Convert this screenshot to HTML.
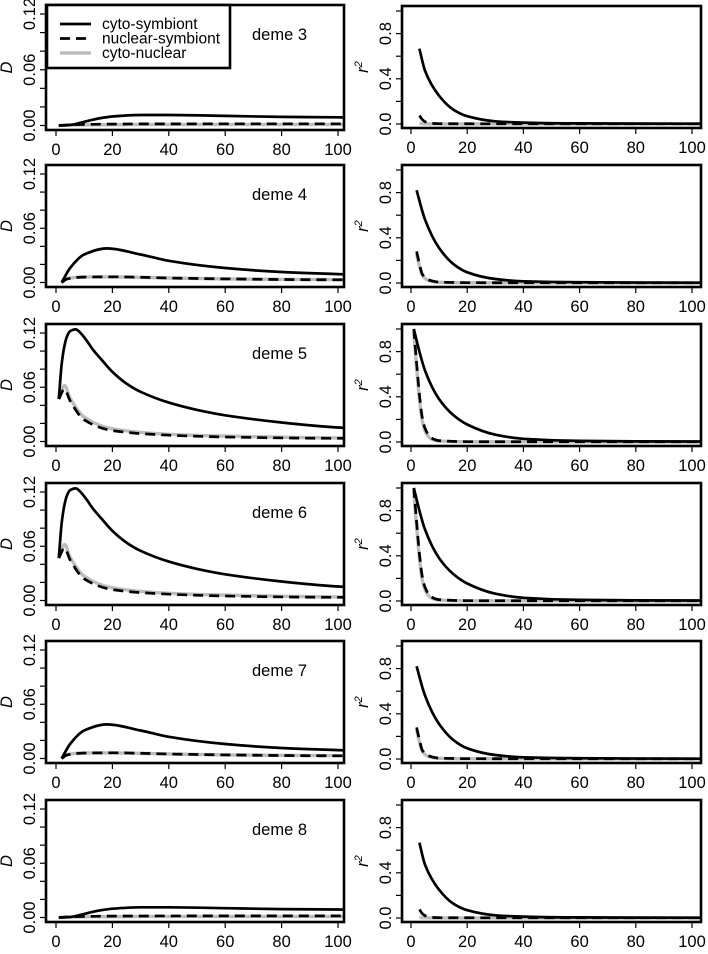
<!DOCTYPE html>
<html><head><meta charset="utf-8">
<style>
html,body{margin:0;padding:0;background:#fff;}
svg{display:block;font-family:"Liberation Sans",Arial,sans-serif;}
</style></head>
<body>
<svg id="chart" width="708" height="954" viewBox="0 0 708 954"></svg>
<script>
// ---- data ----
const demes = [3,4,5,6,7,8];
const xTicks = [0,20,40,60,80,100];
const dTicks = [0,0.02,0.04,0.06,0.08,0.10,0.12];
const dTickLabels = ["0.00","","","0.06","","","0.12"];
const rTicks = [0,0.2,0.4,0.6,0.8,1.0];
const rTickLabels = ["0.0","","0.4","","0.8",""];
// D curves
const dCytoSymLow_x = [1,5,10,15,20,30,40,60,80,100,103];
const dCytoSymLow_y = [0,0.0006,0.004,0.0075,0.0097,0.0113,0.0113,0.0103,0.0093,0.0088,0.0087];
const dNucSymLow_x = [1,10,30,60,100,103];
const dNucSymLow_y = [0,0.0012,0.0017,0.0018,0.0018,0.0018];
const dCytoNucLow_y = [0,0.0008,0.0012,0.0012,0.0012,0.0012];
const dCytoSymMid_x = [2,5,10,18,30,40,60,80,100,103];
const dCytoSymMid_y = [0,0.016,0.031,0.0377,0.031,0.024,0.016,0.0116,0.0093,0.009];
const dNucSymMid_x = [2,4,10,20,40,60,100,103];
const dNucSymMid_y = [0,0.004,0.006,0.0063,0.005,0.004,0.003,0.003];
const dCytoNucMid_y = [0,0.0045,0.0062,0.0062,0.005,0.004,0.0031,0.003];
const dCytoSymHigh_x = [1,2,3,4,5,7,9,11,13,16,20,25,30,40,50,60,80,100,103];
const dCytoSymHigh_y = [0.047,0.085,0.106,0.117,0.122,0.124,0.119,0.111,0.102,0.091,0.077,0.064,0.055,0.043,0.035,0.029,0.021,0.0155,0.015];
const dNucSymHigh_x = [1,3,5,10,20,40,60,100,103];
const dNucSymHigh_y = [0.047,0.058,0.045,0.024,0.012,0.007,0.005,0.0035,0.0035];
const dCytoNucHigh_y = [0.047,0.062,0.048,0.027,0.014,0.008,0.006,0.004,0.004];
// r^2 curves
const rCytoSymLow_x = [3,5,10,15,20,30,40,60,100,103];
const rCytoSymLow_y = [0.666,0.47,0.25,0.128,0.069,0.024,0.012,0.005,0.003,0.003];
const rNucSymLow_x = [3,4,5,7,10,30,103];
const rNucSymLow_y = [0.075,0.04,0.02,0.006,0.003,0.002,0.002];
const rCytoNucLow_y = [0.005,0.003,0.002,0.001,0.001,0.001,0.001];
const rCytoSymMid_x = [2,5,10,15,20,30,40,60,100,103];
const rCytoSymMid_y = [0.82,0.56,0.31,0.17,0.095,0.035,0.015,0.007,0.003,0.003];
const rNucSymMid_x = [2,3,4,6,10,20,103];
const rNucSymMid_y = [0.28,0.17,0.08,0.03,0.008,0.003,0.002];
const rCytoNucMid_y = [0.26,0.15,0.07,0.025,0.006,0.002,0.001];
const rCytoSymHigh_x = [1,3,5,10,15,20,30,40,60,100,103];
const rCytoSymHigh_y = [1.0,0.8,0.63,0.38,0.24,0.155,0.065,0.028,0.01,0.004,0.004];
const rNucSymHigh_x = [1,2,3,4,5,7,10,20,103];
const rNucSymHigh_y = [1.0,0.7,0.42,0.22,0.12,0.04,0.012,0.003,0.002];
const rCytoNucHigh_y = [0.97,0.66,0.38,0.19,0.1,0.03,0.008,0.002,0.001];

const NS="http://www.w3.org/2000/svg";
const svg=document.getElementById('chart');
function mk(tag,attrs,parent){const e=document.createElementNS(NS,tag);for(const k in attrs)e.setAttribute(k,attrs[k]);(parent||svg).appendChild(e);return e;}

function series(kind,level){
  const L = {low:"Low",mid:"Mid",high:"High"}[level];
  const p = kind==="D"?"d":"r";
  const ns = eval(p+"NucSym"+L+"_x");
  return {
    cs:[eval(p+"CytoSym"+L+"_x"),eval(p+"CytoSym"+L+"_y")],
    ns:[ns,eval(p+"NucSym"+L+"_y")],
    cn:[ns,eval(p+"CytoNuc"+L+"_y")]
  };
}
const levels=["low","mid","high","high","mid","low"];
const rowTops=[6,165,324,483,641,800];

function smoothPath(px){
  const n=px.length;
  const dx=[],sl=[];
  for(let i=0;i<n-1;i++){dx.push(px[i+1][0]-px[i][0]);sl.push((px[i+1][1]-px[i][1])/dx[i]);}
  const m=new Array(n);
  m[0]=sl[0];m[n-1]=sl[n-2];
  for(let i=1;i<n-1;i++){
    if(sl[i-1]*sl[i]<=0)m[i]=0;
    else{const w1=2*dx[i]+dx[i-1],w2=dx[i]+2*dx[i-1];m[i]=(w1+w2)/(w1/sl[i-1]+w2/sl[i]);}
  }
  let d="M"+px[0][0].toFixed(1)+","+px[0][1].toFixed(1);
  for(let i=0;i<n-1;i++){
    const h=dx[i]/3;
    d+=" C"+(px[i][0]+h).toFixed(1)+","+(px[i][1]+m[i]*h).toFixed(1)+" "+(px[i+1][0]-h).toFixed(1)+","+(px[i+1][1]-m[i+1]*h).toFixed(1)+" "+px[i+1][0].toFixed(1)+","+px[i+1][1].toFixed(1);
  }
  return d;
}

function panel(row,col){
  const kind = col===0?"D":"r";
  const top = row===0 && col===0 ? 5 : rowTops[row];
  const h = row===0 && col===0 ? 125 : 122;
  const bx = col===0?46:402, bw=col===0?298:299;
  const x0 = col===0?56:411, xs=col===0?2.82:2.81;
  const bottom=top+h;
  let ys,yb;
  if(kind==="D"){yb=bottom-4.5;ys=(h-13.5)/0.12;}else{yb=bottom-4;ys=(h-9);}
  const X=v=>x0+v*xs, Y=v=>yb-v*ys;
  const g=mk('g',{});
  
  
  const clipId='c'+row+'_'+col;
  const cp=mk('clipPath',{id:clipId},g);mk('rect',{x:bx,y:top,width:bw,height:h},cp);
  const s=series(kind,levels[row]);
  const lg=mk('g',{'clip-path':'url(#'+clipId+')'},g);
  const defs=[["cn","#bdbdbd","3.4",null,"cyto-nuclear-line"],["ns","#000","2.7","10,6","nuclear-symbiont-line"],["cs","#000","2.7",null,"cyto-symbiont-line"]];
  defs.forEach(([k,c,w,da,nm])=>{
    const xs_=s[k][0],vs=s[k][1];
    const px=xs_.map((xv,i)=>[X(xv),Y(vs[i])]);
    const p=mk('path',{d:smoothPath(px),fill:'none',stroke:c,'stroke-width':w,'stroke-linecap':'butt','stroke-linejoin':'round'},lg);
    if(da)p.setAttribute('stroke-dasharray',da);
    
    
  });
  const box=mk('rect',{x:bx,y:top,width:bw,height:h,fill:'none',stroke:'#000','stroke-width':2.6},g);
  
  
  xTicks.forEach(t=>{
    mk('line',{x1:X(t),x2:X(t),y1:bottom,y2:bottom+6,stroke:'#000','stroke-width':1.2},g);
    const tx=mk('text',{x:X(t),y:bottom+25,'text-anchor':'middle','font-size':16.5},g);
    tx.textContent=t;
    
    
  });
  const yt=kind==="D"?dTicks:rTicks, yl=kind==="D"?dTickLabels:rTickLabels;
  yt.forEach((t,i)=>{
    const yy=Y(t);
    mk('line',{x1:bx-6,x2:bx,y1:yy,y2:yy,stroke:'#000','stroke-width':1.2},g);
    if(yl[i]){
      const lx=bx-11;
      const tx=mk('text',{x:lx,y:yy,'text-anchor':'middle','font-size':16.5,transform:'rotate(-90 '+lx+' '+yy+')'},g);
      tx.textContent=yl[i];
      
      
    }
  });
  const tx=bx-34, ty=top+h/2;
  const yt2=mk('text',{x:tx,y:ty,'text-anchor':'middle','font-size':16.5,'font-style':'italic',transform:'rotate(-90 '+tx+' '+ty+')'},g);
  if(kind==="D"){yt2.textContent="D";}
  else{yt2.textContent="r";const sp=mk('tspan',{dy:-6,'font-size':11},yt2);sp.textContent="2";}
  
  
  if(kind==="D"){
    const dl=mk('text',{x:252,y:top+35,'font-size':16.5},g);
    dl.textContent="deme "+demes[row];
    
    
  }
}
for(let r=0;r<6;r++){panel(r,0);panel(r,1);}
const lg=mk('g',{});


mk('rect',{x:47,y:5,width:183,height:63,fill:'#fff',stroke:'#000','stroke-width':2.6},lg);
const entries=[["cyto-symbiont","#000",null,"2.7"],["nuclear-symbiont","#000","10,6","2.7"],["cyto-nuclear","#bdbdbd",null,"3.4"]];
entries.forEach((e,i)=>{
  const y=24+i*14.5;
  const eg=mk('g',{},lg);
  
  
  const l=mk('line',{x1:60,x2:91,y1:y,y2:y,stroke:e[1],'stroke-width':e[3]},eg);
  if(e[2])l.setAttribute('stroke-dasharray','10,6');
  const t=mk('text',{x:102,y:y+5,'font-size':15.5},eg);
  t.textContent=e[0];
});
</script>
</body></html>
